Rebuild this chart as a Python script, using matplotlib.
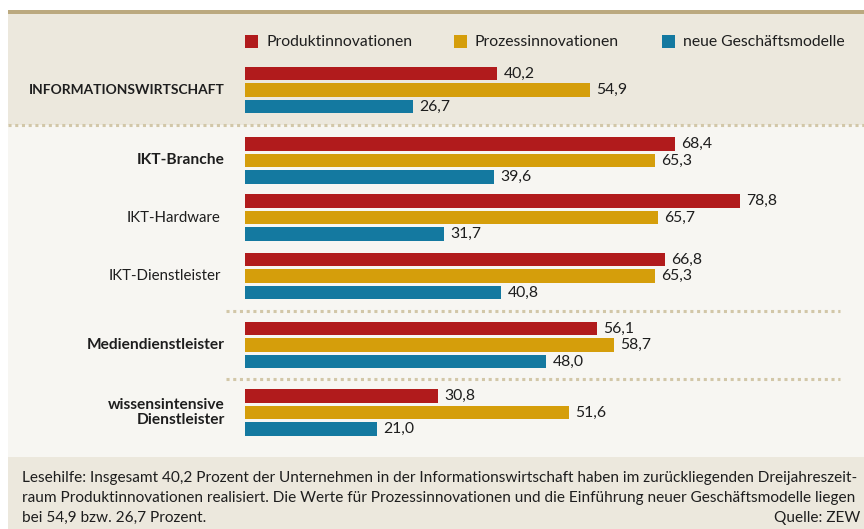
import matplotlib
matplotlib.use("Agg")
import matplotlib.pyplot as plt
from matplotlib.patches import Rectangle
from matplotlib import font_manager

# ================= DATEN =================
categories = ["INFORMATIONSWIRTSCHAFT", "IKT-Branche", "IKT-Hardware",
              "IKT-Dienstleister", "Mediendienstleister",
              "wissensintensive\nDienstleister"]
bold_cats = [True, True, False, False, True, True]
series_names = ["Produktinnovationen", "Prozessinnovationen", "neue Geschäftsmodelle"]
produkt = [40.2, 68.4, 78.8, 66.8, 56.1, 30.8]
prozess = [54.9, 65.3, 65.7, 65.3, 58.7, 51.6]
geschaeft = [26.7, 39.6, 31.7, 40.8, 48.0, 21.0]

caption_lines = [
    "Lesehilfe: Insgesamt 40,2 Prozent der Unternehmen in der Informationswirtschaft haben im zurückliegenden Dreijahreszeit-",
    "raum Produktinnovationen realisiert. Die Werte für Prozessinnovationen und die Einführung neuer Geschäftsmodelle liegen",
    "bei 54,9 bzw. 26,7 Prozent.",
]
source = "Quelle: ZEW"

# ================= STIL =================
COLORS = ["#b11b1c", "#d59e0b", "#1479a0"]
BG_DARK = "#ece8dd"
BG_LIGHT = "#f7f6f2"
TAN = "#bba97f"
DOT = "#d2c7a8"
TXT = "#1e1e1e"

def pick_font(names):
    for n in names:
        try:
            font_manager.findfont(n, fallback_to_default=False)
            return n
        except Exception:
            pass
    return "DejaVu Sans"

FONT = pick_font(["Lato", "Open Sans", "Noto Sans"])
plt.rcParams['font.family'] = [FONT, 'DejaVu Sans']

W, H = 864, 529
GROUP_Y = [90, 160.5, 217.5, 276, 345, 412.5]   # Layout (Pixel)
STEP = 16.5
BAR_H = 13.5
X0 = 245
PX_PER_UNIT = 6.28

fig = plt.figure(figsize=(W / 100, H / 100), dpi=100)
fig.patch.set_facecolor("white")

# Hintergrund-Achse in Pixelkoordinaten
bg = fig.add_axes([0, 0, 1, 1])
bg.set_xlim(0, W)
bg.set_ylim(H, 0)
bg.axis("off")
bg.add_patch(Rectangle((8, 14), W - 8, 111, color=BG_DARK, lw=0))
bg.add_patch(Rectangle((8, 125), W - 8, 332, color=BG_LIGHT, lw=0))
bg.add_patch(Rectangle((8, 457), W - 8, 72, color=BG_DARK, lw=0))
bg.add_patch(Rectangle((8, 10), W - 8, 4, color=TAN, lw=0))

# gepunktete Trennlinien
bg.plot([8, W], [124.5, 124.5], color=DOT, lw=2.2, ls=(0, (1.0, 1.2)))
for yy in [311, 379]:
    bg.plot([226, 840], [yy, yy], color=DOT, lw=2.2, ls=(0, (1.0, 1.2)))

# Legende
leg_x = [245, 454, 662]
for lx, name, c in zip(leg_x, series_names, COLORS):
    bg.add_patch(Rectangle((lx, 35), 13, 13, color=c, lw=0))
    bg.text(lx + 21, 41.5, name, fontsize=11.3, color=TXT, va="center", ha="left")

# Kategorien
for cat, gy, b in zip(categories, GROUP_Y, bold_cats):
    fs = 11.2
    if cat.isupper():
        fs = 9.9
    elif not b:
        fs = 10.8
    bg.text(225 if b else 221, gy, cat, fontsize=fs, color=TXT, ha="right", va="center",
            fontweight="bold" if b else "normal", linespacing=1.15)

# Caption
for k, line in enumerate(caption_lines):
    bg.text(22, 478 + 20 * k, line, fontsize=11.05, color=TXT, ha="left", va="center")
bg.text(860, 518, source, fontsize=11.05, color=TXT, ha="right", va="center")

# ================= BALKEN =================
ax = fig.add_axes([X0 / W, 0, (W - X0) / W, 1])
ax.set_xlim(0, (W - X0) / PX_PER_UNIT)
ax.set_ylim(H, 0)
ax.axis("off")
ax.patch.set_alpha(0)

for i, (vals, c) in enumerate(zip([produkt, prozess, geschaeft], COLORS)):
    ys = [gy + (i - 1) * STEP for gy in GROUP_Y]
    ax.barh(ys, vals, height=BAR_H, color=c, linewidth=0)
    for y, v in zip(ys, vals):
        ax.text(v + 1.0, y, f"{v:.1f}".replace(".", ","), fontsize=11.3, color=TXT,
                ha="left", va="center")

plt.savefig("out.png", dpi=100, facecolor=fig.get_facecolor())
